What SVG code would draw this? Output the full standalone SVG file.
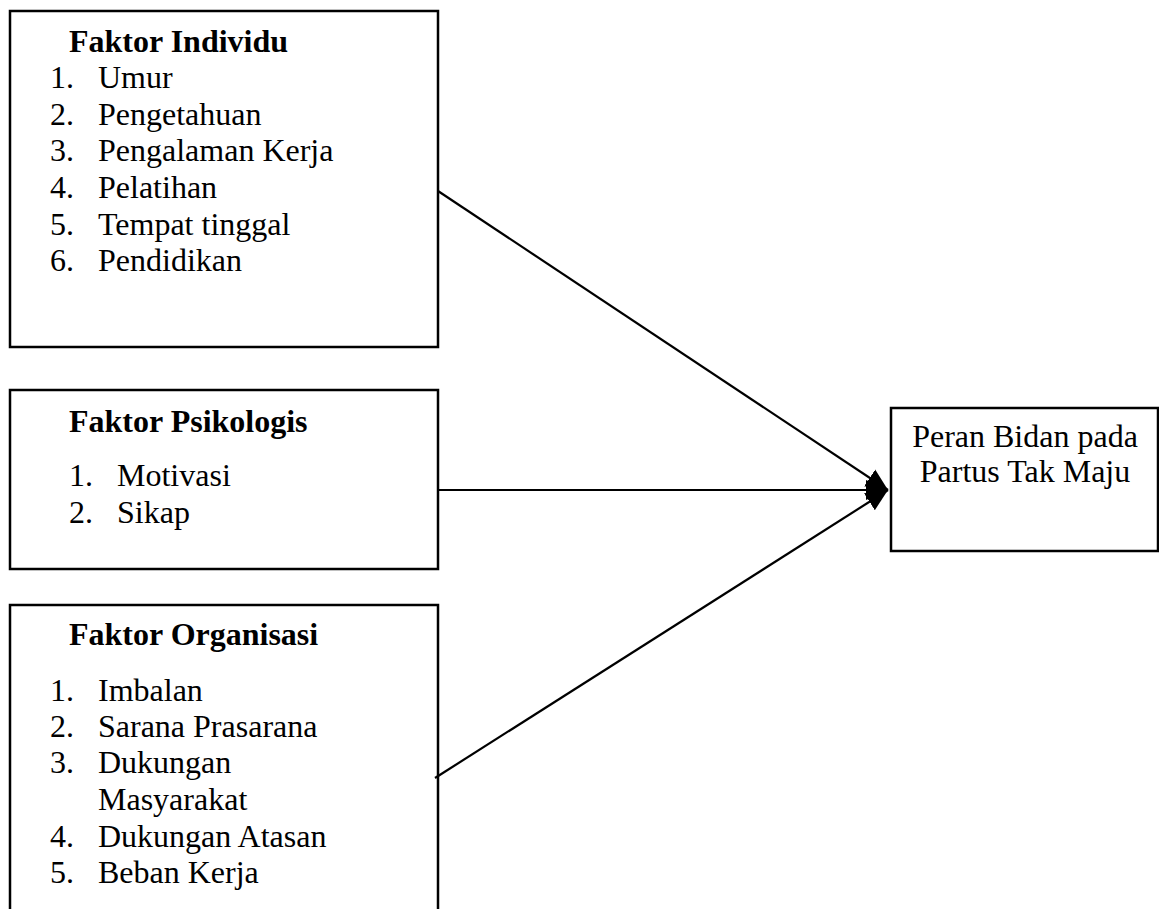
<svg xmlns="http://www.w3.org/2000/svg" width="1159" height="909" viewBox="0 0 1159 909">
<style>
.box{fill:#fff;stroke:#000;stroke-width:2.5}
.t{font-family:"Liberation Serif","Times New Roman",serif;font-size:32px;fill:#000}
.h{font-weight:bold}
.c{stroke:#000;stroke-width:2.2;fill:none}
</style>
<defs>
<marker id="arr" markerUnits="userSpaceOnUse" markerWidth="24" markerHeight="22" refX="22" refY="11" orient="auto">
<path d="M0,1 L22,11 L0,21 Z" fill="#000"/>
</marker>
</defs>
<rect width="1159" height="909" fill="#fff"/>
<g id="faktor-individu">
<rect class="box" x="10" y="11" width="428" height="336"/>
<text class="t h" x="69" y="52">Faktor Individu</text>
<text class="t" x="50" y="88">1.</text><text class="t" x="98" y="88">Umur</text>
<text class="t" x="50" y="125">2.</text><text class="t" x="98" y="125">Pengetahuan</text>
<text class="t" x="50" y="161">3.</text><text class="t" x="98" y="161">Pengalaman Kerja</text>
<text class="t" x="50" y="198">4.</text><text class="t" x="98" y="198">Pelatihan</text>
<text class="t" x="50" y="235">5.</text><text class="t" x="98" y="235">Tempat tinggal</text>
<text class="t" x="50" y="271">6.</text><text class="t" x="98" y="271">Pendidikan</text>
</g>
<g id="faktor-psikologis">
<rect class="box" x="10" y="390" width="428" height="179"/>
<text class="t h" x="69" y="432">Faktor Psikologis</text>
<text class="t" x="69" y="486">1.</text><text class="t" x="117" y="486">Motivasi</text>
<text class="t" x="69" y="523">2.</text><text class="t" x="117" y="523">Sikap</text>
</g>
<g id="faktor-organisasi">
<rect class="box" x="10" y="605" width="428" height="320"/>
<text class="t h" x="69" y="645">Faktor Organisasi</text>
<text class="t" x="50" y="701">1.</text><text class="t" x="98" y="701">Imbalan</text>
<text class="t" x="50" y="737">2.</text><text class="t" x="98" y="737">Sarana Prasarana</text>
<text class="t" x="50" y="773">3.</text><text class="t" x="98" y="773">Dukungan</text>
<text class="t" x="98" y="810">Masyarakat</text>
<text class="t" x="50" y="847">4.</text><text class="t" x="98" y="847">Dukungan Atasan</text>
<text class="t" x="50" y="883">5.</text><text class="t" x="98" y="883">Beban Kerja</text>
</g>
<g id="peran-bidan">
<rect class="box" x="891" y="408" width="267" height="143"/>
<text class="t" x="1025" y="447" text-anchor="middle">Peran Bidan pada</text>
<text class="t" x="1025" y="482" text-anchor="middle">Partus Tak Maju</text>
</g>
<g id="connectors">
<line class="c" x1="438" y1="191" x2="888" y2="490" marker-end="url(#arr)"/>
<line class="c" x1="438" y1="490" x2="888" y2="490" marker-end="url(#arr)"/>
<line class="c" x1="435" y1="778" x2="888" y2="490" marker-end="url(#arr)"/>
</g>
</svg>
